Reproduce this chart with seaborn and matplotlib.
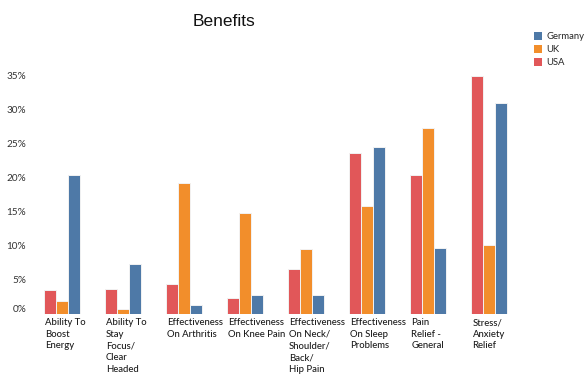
import matplotlib
matplotlib.use("Agg")
import matplotlib.pyplot as plt
import seaborn as sns
import pandas as pd
from matplotlib.patches import Patch
from matplotlib.ticker import FuncFormatter

categories = [
    "Ability To\nBoost\nEnergy",
    "Ability To\nStay\nFocus/\nClear\nHeaded",
    "Effectiveness\nOn Arthritis",
    "Effectiveness\nOn Knee Pain",
    "Effectiveness\nOn Neck/\nShoulder/\nBack/\nHip Pain",
    "Effectiveness\nOn Sleep\nProblems",
    "Pain\nRelief -\nGeneral",
    "Stress/\nAnxiety\nRelief",
]
usa = [3.6, 3.7, 4.4, 2.3, 6.6, 23.7, 20.5, 35.0]
uk = [1.9, 0.8, 19.2, 14.8, 9.6, 15.9, 27.4, 10.2]
germany = [20.4, 7.35, 1.3, 2.75, 2.75, 24.5, 9.65, 31.1]
countries = ["USA", "UK", "Germany"]
colors = {"USA": "#E15759", "UK": "#F28E2B", "Germany": "#4E79A7"}
yticks = [0, 5, 10, 15, 20, 25, 30, 35]

rows = []
for i, c in enumerate(categories):
    rows.append((c, "USA", usa[i]))
    rows.append((c, "UK", uk[i]))
    rows.append((c, "Germany", germany[i]))
df = pd.DataFrame(rows, columns=["Benefit", "Country", "Value"])

sns.set_style("white")
plt.rcParams["font.family"] = ["Lato", "DejaVu Sans"]

fig = plt.figure(figsize=(5.88, 3.78), dpi=100)
ax = fig.add_axes([31 / 588, 64 / 378, 489 / 588, 254 / 378])

group_w = 0.59
sns.barplot(data=df, x="Benefit", y="Value", hue="Country", hue_order=countries,
            order=categories, palette=colors, width=group_w, ax=ax, saturation=1,
            edgecolor="#f2f2f2", linewidth=0.7, legend=False, errorbar=None)

ax.set_xlim(-0.5, len(categories) - 0.5)
ax.set_ylim(0, 37.35)
for s in ax.spines.values():
    s.set_visible(False)
ax.set_xlabel("")
ax.set_ylabel("")
ax.set_yticks(yticks)
ax.yaxis.set_major_formatter(FuncFormatter(lambda v, p: f"{int(v)}%"))
ax.tick_params(axis="y", length=0, pad=3.5, labelsize=7.2, labelcolor="#333333")
ax.set_xticks([])
ylabels = ax.get_yticklabels()
if ylabels:
    ylabels[0].set_verticalalignment("bottom")

for i, c in enumerate(categories):
    ax.annotate(c, xy=(i - group_w / 2, 0), xycoords=("data", "axes fraction"),
                xytext=(0.8, -3), textcoords="offset points", ha="left", va="top",
                fontsize=6.8, color="#1a1a1a", linespacing=1.38, fontweight="medium")

fig.text(224 / 588, 1 - 21 / 378, "Benefits", ha="center", va="center",
         fontsize=12.5, family=["Liberation Sans", "DejaVu Sans"], color="#111111")

handles = [Patch(facecolor=colors[c], edgecolor="none", label=c)
           for c in ["Germany", "UK", "USA"]]
fig.legend(handles=handles, loc="upper left", bbox_to_anchor=(534 / 588, 1 - 32 / 378),
           frameon=False, fontsize=6.8, handlelength=0.85, handleheight=0.85,
           handletextpad=0.45, labelspacing=0.42, borderaxespad=0, borderpad=0)

fig.savefig("out.png", dpi=100)
